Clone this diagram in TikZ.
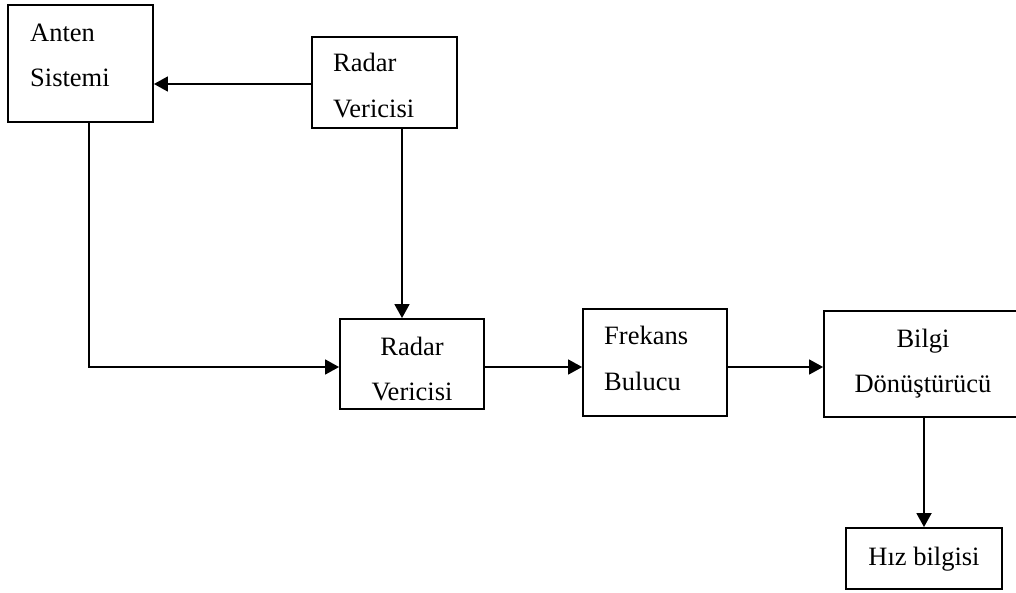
\documentclass[tikz,border=0pt]{standalone}
\usepackage{fontspec}
\setmainfont{Liberation Serif}
\usetikzlibrary{arrows.meta}
\begin{document}
\begin{tikzpicture}[x=1pt,y=-1pt,
  box/.style={draw=black,line width=1.9pt,fill=none,inner sep=0pt},
  txt/.style={inner sep=0pt,font=\fontsize{26.5}{45}\selectfont},
  arr/.style={line width=1.8pt,-{Triangle[length=14pt,width=15pt]}}]
\useasboundingbox (0,0) rectangle (1016,593);
% boxes
\node[box,minimum width=145pt,minimum height=117pt] (anten) at (80.5,63.5) {};
\node[box,minimum width=145pt,minimum height=91pt] (toprad) at (384.5,82.5) {};
\node[box,minimum width=144pt,minimum height=90pt] (midrad) at (412,364) {};
\node[box,minimum width=144pt,minimum height=107pt] (frek) at (655,362.5) {};
\node[box,minimum width=194pt,minimum height=106pt] (bilgi) at (921,364) {};
\node[box,minimum width=156pt,minimum height=61pt] (hiz) at (924,558.5) {};
% texts
\node[txt,anchor=base west] (t1a) at (30,42) {Anten};
\node[txt,anchor=base west] (t1b) at (30,87) {Sistemi};
\node[txt,anchor=base west] (t2a) at (333,72) {Radar};
\node[txt,anchor=base west] (t2b) at (333,118) {Vericisi};
\node[txt,anchor=base] (t3a) at (412,355) {Radar};
\node[txt,anchor=base] (t3b) at (412,400) {Vericisi};
\node[txt,anchor=base west] (t4a) at (604,344) {Frekans};
\node[txt,anchor=base west] (t4b) at (604,390) {Bulucu};
\node[txt,anchor=base] (t5a) at (923,347) {Bilgi};
\node[txt,anchor=base] (t5b) at (923,392) {Dönüştürücü};
\node[txt,anchor=base] (t6) at (924,565) {Hız bilgisi};
% helper coordinates
\coordinate (row) at (0,367);
\coordinate (colA) at (89,0);
\coordinate (colB) at (402,0);
\coordinate (colC) at (924,0);
\coordinate (rowT) at (0,84);
% connectors
\draw[arr] (toprad.west |- rowT) -- (anten.east |- rowT);
\draw[arr] (toprad.south -| colB) -- (midrad.north -| colB);
\draw[arr] (anten.south -| colA) |- (midrad.west |- row);
\draw[arr] (midrad.east |- row) -- (frek.west |- row);
\draw[arr] (frek.east |- row) -- (bilgi.west |- row);
\draw[arr] (bilgi.south -| colC) -- (hiz.north -| colC);
\end{tikzpicture}
\end{document}
